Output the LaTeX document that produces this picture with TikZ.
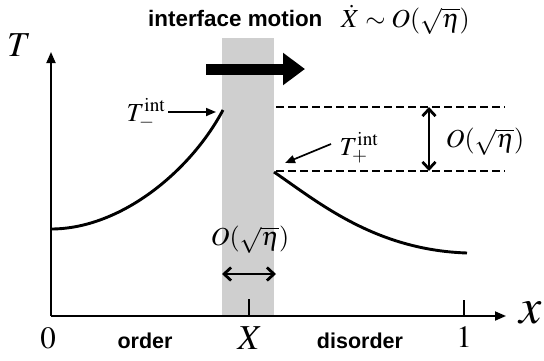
\documentclass[tikz,border=0pt]{standalone}
\usepackage{mathptmx}
\usepackage[no-math]{fontspec}
\setsansfont{Liberation Sans}
\usetikzlibrary{arrows.meta}
\tikzset{
  axis/.style={line width=1.8pt,-{Triangle[length=11pt,width=9pt]}},
  curve/.style={line width=2.9pt},
  band/.style={fill=black!19},
  tickline/.style={line width=1.3pt},
  dashline/.style={line width=2.2pt,dash pattern=on 7.5pt off 4.5pt},
  dbl/.style={line width=2.8pt,{Straight Barb[length=7pt,width=13pt]}-{Straight Barb[length=7pt,width=13pt]}},
  ptr/.style={line width=1.7pt,-{Triangle[length=10pt,width=8pt]}},
  bigmath/.style={inner sep=0pt,font=\fontsize{35}{40}\selectfont},
  hugemath/.style={inner sep=0pt,font=\fontsize{50}{56}\selectfont},
  mathlbl/.style={inner sep=0pt,font=\fontsize{26}{30}\selectfont},
  digitlbl/.style={inner sep=0pt,font=\fontsize{31}{35}\selectfont},
  sanslbl/.style={inner sep=0pt,font=\fontsize{21.5}{25}\selectfont\sffamily\bfseries},
}
\begin{document}
\begin{tikzpicture}[x=1pt,y=-1pt]
\useasboundingbox (0,0) rectangle (544,360);
% interface band
\fill[band] (222,38) rectangle (274,316);
% axes
\coordinate (O) at (51,316);
\coordinate (ytip) at (51,52);
\coordinate (xtip) at (506,316);
\draw[axis] (O) -- (ytip);
\draw[axis] (O) -- (xtip);
% ticks
\coordinate (tX) at (249,316);
\coordinate (tXt) at (249,299);
\coordinate (t1) at (464,316);
\coordinate (t1t) at (464,300);
\draw[tickline] (tX) -- (tXt);
\draw[tickline] (t1) -- (t1t);
% axis labels
\node[bigmath] (Tlab) at (19,45) {$T$};
\node[hugemath] (xlab) at (531,313) {$x$};
\node[digitlbl] (zero) at (48,338) {$0$};
\node[digitlbl] (one) at (464,337) {$1$};
\node[bigmath] (Xlab) at (250,338) {$X$};
\node[sanslbl] (order) at (145,341) {order};
\node[sanslbl] (disorder) at (360,341) {disorder};
% big arrow
\coordinate (ba1) at (206,69);
\coordinate (ba2) at (305,69);
\draw[line width=11pt,-{Triangle[length=22pt,width=31pt]}] (ba1) -- (ba2);
% title
\node[sanslbl,anchor=base west,font=\fontsize{22.4}{26}\selectfont\sffamily\bfseries] (title) at (148,26) {interface motion};
\node[mathlbl,anchor=base west] (titlemath) at (341,27) {$\dot{X}\sim O(\sqrt{\eta})$};
% temperature curves
\coordinate (L0) at (51,229);
\coordinate (L1) at (223,110);
\draw[curve] (L0) .. controls (120,229) and (190,172) .. (L1);
\coordinate (R0) at (274,172);
\coordinate (R1) at (467,253);
\draw[curve] (R0) .. controls (318,202) and (375,250) .. (R1);
% dashed levels
\coordinate (d1a) at (276,107);
\coordinate (d1b) at (505,107);
\coordinate (d2a) at (276,171);
\coordinate (d2b) at (505,171);
\draw[dashline] (d1a) -- (d1b);
\draw[dashline] (d2a) -- (d2b);
\coordinate (va) at (429,107);
\coordinate (vb) at (429,171);
\draw[dbl] (va) -- (vb);
\node[mathlbl] (Ojump) at (485,142) {$O(\sqrt{\eta})$};
% interface width
\coordinate (ha) at (222,274);
\coordinate (hb) at (276,274);
\draw[dbl] (ha) -- (hb);
\node[mathlbl] (Owidth) at (250,240) {$O(\sqrt{\eta})$};
% interface temperatures
\node[mathlbl] (Tm) at (146,114) {$T^{\mathrm{int}}_{-}$};
\coordinate (Tmtip) at (216,112);
\draw[ptr] (Tm.east |- Tmtip) ++(3,0) -- (Tmtip);
\node[mathlbl] (Tp) at (359,148) {$T^{\mathrm{int}}_{+}$};
\coordinate (Tptail) at (331,144);
\coordinate (Tptip) at (285,163);
\draw[ptr] (Tptail) -- (Tptip);
\end{tikzpicture}
\end{document}
